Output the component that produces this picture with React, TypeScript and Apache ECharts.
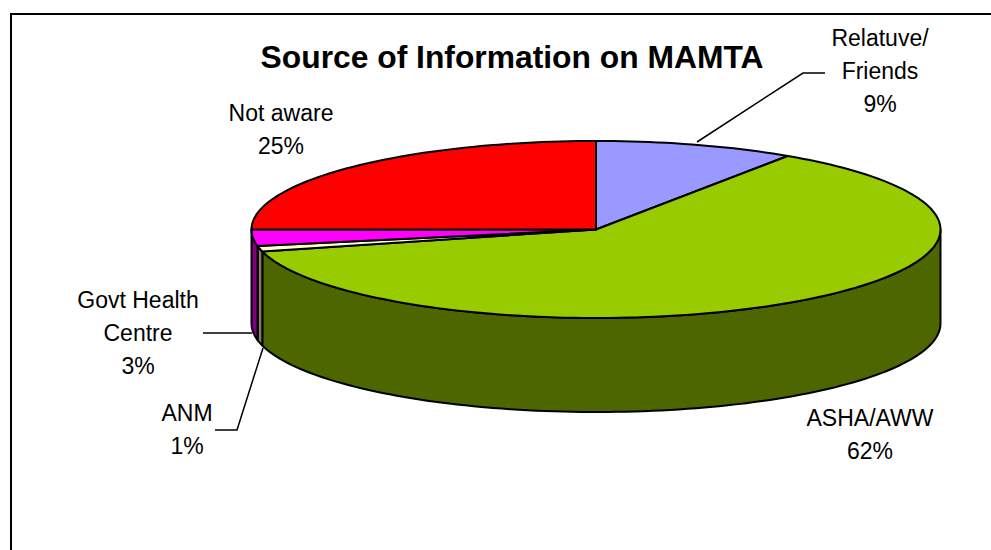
import React, { useEffect, useRef } from "react";
import * as echarts from "echarts";

const categories = ["Relatuve/\nFriends", "ASHA/AWW", "ANM", "Govt Health\nCentre", "Not aware"];
const values = [9.4, 61.6, 1, 3, 25];
const topColors = ["#9999FF", "#99CC00", "#FFFFCC", "#FF00FF", "#FF0000"];
const sideColors = ["#4D4D80", "#4D6600", "#808066", "#800080", "#800000"];
const labelAnchors = [[880, 71], [870, 434], [187, 429], [138, 333], [281, 129]];
const leaderLines = [
  [[697, 142], [803, 73], [825, 73]],
  [],
  [[263, 348], [237, 430], [215, 430]],
  [[203, 333], [252, 333]],
  [],
];

const FONT = '"Liberation Sans", Arial, sans-serif';
const CX = 596, CY = 229.5, RX = 344.5, RY = 88.5, DEPTH = 94;
const total = values.reduce((a, b) => a + b, 0);

const pt = (deg: number, dy = 0) => {
  const r = (deg * Math.PI) / 180;
  return [CX + RX * Math.sin(r), CY - RY * Math.cos(r) + dy];
};
const arc = (a: number, b: number, dy = 0) => {
  const n = Math.max(2, Math.ceil(Math.abs(b - a) / 1.5));
  const out: number[][] = [];
  for (let i = 0; i <= n; i++) out.push(pt(a + ((b - a) * i) / n, dy));
  return out;
};
const line = { stroke: "#000", lineWidth: 2, lineJoin: "round" as const };

const renderItem = (_p: any, api: any) => {
  const i = api.value(0);
  const start = (values.slice(0, i).reduce((a, b) => a + b, 0) / total) * 360;
  const end = start + (values[i] / total) * 360;
  const children: any[] = [];
  const a = Math.max(start, 90), b = Math.min(end, 270);
  if (b > a) {
    children.push({
      type: "polygon",
      shape: { points: [...arc(a, b), ...arc(b, a, DEPTH)] },
      style: { fill: sideColors[i], ...line },
    });
  }
  children.push({
    type: "polygon",
    shape: { points: [[CX, CY], ...arc(start, end)] },
    style: { fill: topColors[i], ...line },
  });
  return { type: "group", children };
};

export default function App() {
  const ref = useRef<HTMLDivElement>(null);
  useEffect(() => {
    const chart = echarts.init(ref.current!, undefined, { renderer: "svg" });
    const textEls = categories.map((c, i) => ({
      type: "text",
      x: labelAnchors[i][0],
      y: labelAnchors[i][1],
      style: {
        text: `${c}\n${Math.round(values[i])}%`,
        font: `23px ${FONT}`,
        fill: "#000",
        align: "center",
        verticalAlign: "middle",
        lineHeight: 33,
      },
    }));
    const lineEls = leaderLines
      .filter((l) => l.length)
      .map((l) => ({
        type: "polyline",
        shape: { points: l },
        style: { stroke: "#000", lineWidth: 1.5, fill: "none" },
      }));
    chart.setOption({
      animation: false,
      backgroundColor: "#fff",
      title: {
        text: "Source of Information on MAMTA",
        left: 507,
        top: 36,
        textAlign: "center",
        textStyle: { fontFamily: FONT, fontSize: 31.8, fontWeight: "bold", color: "#000" },
      },
      series: [
        {
          type: "custom",
          coordinateSystem: "none",
          silent: true,
          renderItem,
          data: values.map((v, i) => [i, v]),
        },
      ],
      graphic: [
        {
          type: "polyline",
          shape: { points: [[11, 550], [11, 14], [991, 14]] },
          style: { stroke: "#000", lineWidth: 2, fill: "none" },
        },
        ...lineEls,
        ...textEls,
      ],
    });
    return () => chart.dispose();
  }, []);
  return <div ref={ref} style={{ position: "fixed", left: 0, top: 0, width: 991, height: 550 }} />;
}
